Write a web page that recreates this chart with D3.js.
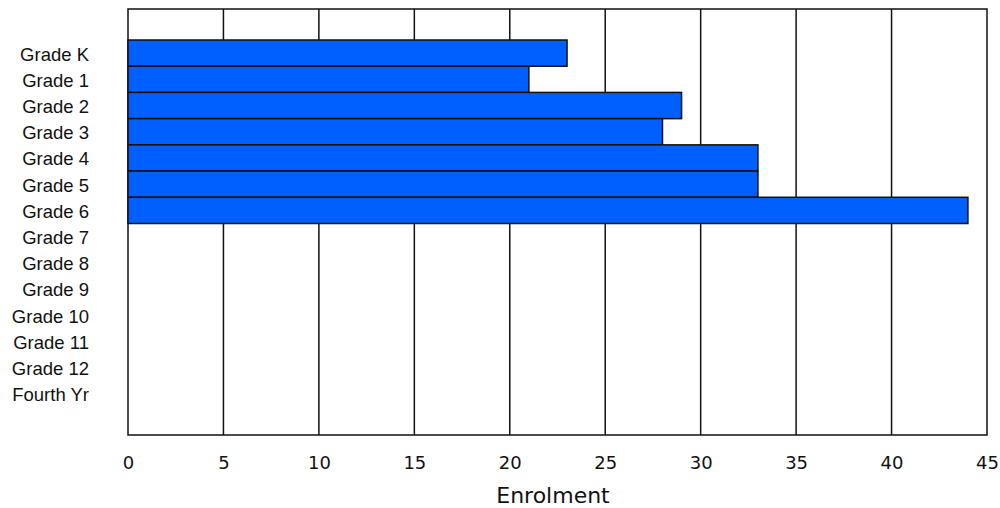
<!DOCTYPE html>
<html><head><meta charset="utf-8">
<script src="https://cdn.jsdelivr.net/npm/d3@7"></script>
<style>body{margin:0;background:#fff}</style>
</head><body>
<svg id="c" width="1000" height="508"></svg>
<script>
const categories = ["Grade K","Grade 1","Grade 2","Grade 3","Grade 4","Grade 5","Grade 6","Grade 7","Grade 8","Grade 9","Grade 10","Grade 11","Grade 12","Fourth Yr"];
const enrolment = [23,21,29,28,33,33,44,0,0,0,0,0,0,0];
const xTicks = [0,5,10,15,20,25,30,35,40,45];
const xTitle = "Enrolment";

(function(){
const svg = d3.select("#c");
const pL=128, pR=987, pT=9, pB=435;
const x = d3.scaleLinear().domain([0,45]).range([pL,pR]);
const y = d3.scaleBand().domain(categories).range([40,407]).padding(0);

svg.append("rect").attr("x",pL).attr("y",pT).attr("width",pR-pL).attr("height",pB-pT)
  .attr("fill","#fff").attr("stroke","#111").attr("stroke-width",1.5);

svg.append("g").selectAll("line").data(xTicks.slice(1,-1)).join("line")
  .attr("x1",d=>x(d)).attr("x2",d=>x(d)).attr("y1",pT).attr("y2",pB)
  .attr("stroke","#111").attr("stroke-width",1.5);

svg.append("g").selectAll("rect").data(categories.map((c,i)=>({c,v:enrolment[i]})).filter(d=>d.v>0)).join("rect")
  .attr("x",x(0)).attr("y",d=>y(d.c)).attr("width",d=>x(d.v)-x(0)).attr("height",y.bandwidth())
  .attr("fill","#0060ff").attr("stroke","#111").attr("stroke-width",1.5);

const xAxis = d3.axisBottom(x).tickValues(xTicks).tickSize(0).tickPadding(0);
const gx = svg.append("g").attr("transform",`translate(0,${pB})`).call(xAxis);
gx.select(".domain").remove();
gx.selectAll("text").attr("y",34).attr("dy","0").attr("font-family","DejaVu Sans, Verdana, sans-serif").attr("font-size",18).attr("fill","#111");

const yAxis = d3.axisLeft(y).tickSize(0).tickPadding(0);
const gy = svg.append("g").attr("transform","translate(89,0)").call(yAxis);
gy.select(".domain").remove();
gy.selectAll("text").attr("font-family","Liberation Sans, Arial, sans-serif").attr("font-size",18.5).attr("fill","#111").attr("dy","0.4em");

svg.append("text").attr("x",553).attr("y",503).attr("text-anchor","middle")
  .attr("font-family","DejaVu Sans, Verdana, sans-serif").attr("font-size",22).attr("fill","#111").text(xTitle);
})();
</script>
</body></html>
